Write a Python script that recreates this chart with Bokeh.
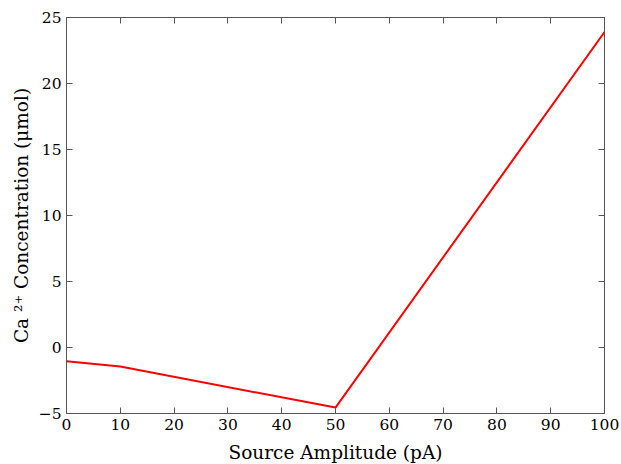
from bokeh.plotting import figure
from bokeh.models import LinearAxis, FixedTicker, Range1d
from bokeh.embed import file_html
from bokeh.resources import INLINE

amplitude = [0, 10, 50, 100]
concentration = [-1.05, -1.44, -4.55, 23.9]
x_ticks = [0, 10, 20, 30, 40, 50, 60, 70, 80, 90, 100]
y_ticks = [-5, 0, 5, 10, 15, 20, 25]

FONT = "DejaVu Serif"
AXIS_COLOR = "#555555"

p = figure(width=621, height=464, output_backend="svg", toolbar_location=None,
           x_range=Range1d(0, 100), y_range=Range1d(-5, 25),
           x_axis_location=None, y_axis_location=None,
           min_border_left=66, min_border_right=17, min_border_top=17, min_border_bottom=51)
p.frame_width = 538
p.frame_height = 396
p.grid.visible = False
p.outline_line_color = AXIS_COLOR
p.background_fill_color = "white"
p.border_fill_color = "white"

def make_axis(ticks, label=None, show_labels=True, label_standoff=6):
    ax = LinearAxis(ticker=FixedTicker(ticks=ticks))
    ax.major_tick_in = 6
    ax.major_tick_out = 0
    ax.minor_tick_line_color = None
    ax.axis_line_color = AXIS_COLOR
    ax.major_tick_line_color = AXIS_COLOR
    ax.major_label_text_font = FONT
    ax.major_label_text_font_size = "15.5px"
    ax.major_label_text_color = "black"
    ax.major_label_standoff = 5
    if not show_labels:
        ax.major_label_text_font_size = "0px"
        ax.major_label_text_color = None
    if label:
        ax.axis_label = label
        ax.axis_label_text_font = FONT
        ax.axis_label_text_font_size = "18.5px"
        ax.axis_label_text_font_style = "normal"
        ax.axis_label_text_color = "black"
        ax.axis_label_standoff = label_standoff
    return ax

p.add_layout(make_axis(x_ticks, "Source Amplitude (pA)", label_standoff=9), "below")
p.add_layout(make_axis(y_ticks, "Ca ²⁺ Concentration (μmol)", label_standoff=4), "left")
p.add_layout(make_axis(x_ticks, show_labels=False), "above")
p.add_layout(make_axis(y_ticks, show_labels=False), "right")

p.line(amplitude, concentration, line_color="red", line_width=2)

open("out.html", "w").write(file_html(p, INLINE))
